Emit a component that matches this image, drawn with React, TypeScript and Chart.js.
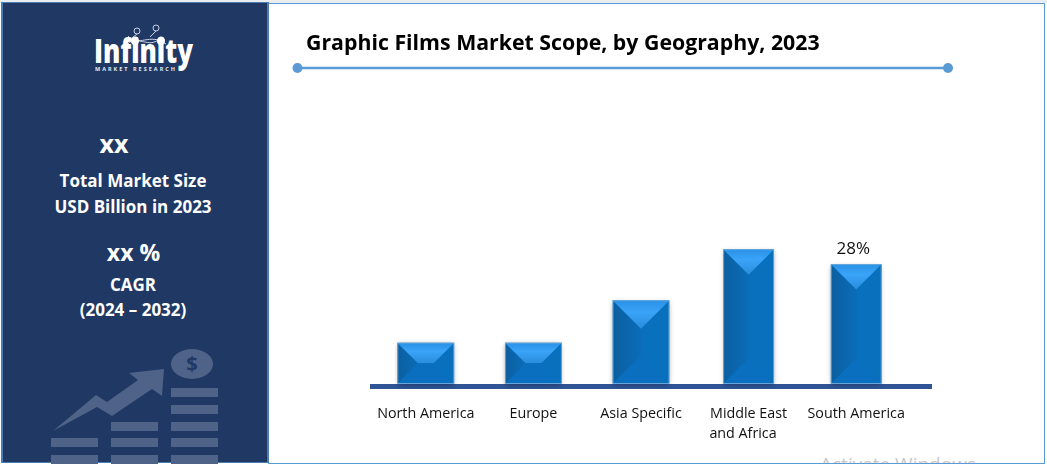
import React, { useEffect, useRef } from "react";
import { Chart, registerables } from "chart.js";

Chart.register(...registerables);

const categories = ["North America", "Europe", "Asia Specific", ["Middle East", "and Africa   "], "South America"];
const wideBars = [9.5, 9.5, 19.5, null, null];
const narrowBars = [null, null, null, 31.5, 28];
const barLabels = ["", "", "", "", "28%"];
const chartTitle = "Graphic Films Market Scope, by Geography, 2023";
const uiFont = "'Open Sans', 'Noto Sans', sans-serif";

const drawFacet = (ctx: CanvasRenderingContext2D, pts: number[][], fill: any) => {
    ctx.beginPath();
    pts.forEach((p, i) => (i ? ctx.lineTo(p[0], p[1]) : ctx.moveTo(p[0], p[1])));
    ctx.closePath();
    ctx.fillStyle = fill;
    ctx.fill();
};

const eachBar = (chart: any, fn: (bar: any, index: number) => void) => {
    chart.data.datasets.forEach((_: any, i: number) => {
        chart.getDatasetMeta(i).data.forEach((bar: any, index: number) => {
            if (Number.isFinite(bar.y) && Math.abs(bar.base - bar.y) > 0) fn(bar, index);
        });
    });
};

// bevelled look of the bars, the thick base line and the one value label
const bevelPlugin = {
    id: "bevel",
    beforeDatasetsDraw(chart: any) {
        const { ctx, scales } = chart;
        const zero = scales.y.getPixelForValue(0);
        ctx.save();
        ctx.fillStyle = "#2f5597";
        ctx.fillRect(370, zero + 0.5, 562, 5);
        ctx.shadowColor = "rgba(0,0,0,0.35)";
        ctx.shadowBlur = 5;
        ctx.shadowOffsetY = 1;
        ctx.fillStyle = "#0070c0";
        eachBar(chart, (bar) => {
            ctx.fillRect(bar.x - bar.width / 2, bar.y, bar.width, bar.base - bar.y);
        });
        ctx.restore();
    },
    afterDatasetsDraw(chart: any) {
        const { ctx } = chart;
        ctx.save();
        eachBar(chart, (bar, index) => {
            const l = bar.x - bar.width / 2;
            const r = bar.x + bar.width / 2;
            const t = bar.y;
            const b = bar.base;
            const d = Math.min(bar.width, b - t) / 2;

            const left = ctx.createLinearGradient(l, 0, l + d, 0);
            left.addColorStop(0, "#0b5fa0");
            left.addColorStop(1, "#0b6cb8");
            drawFacet(ctx, [[l, t], [l + d, t + d], [l + d, b - d], [l, b]], left);

            drawFacet(ctx, [[r, t], [r - d, t + d], [r - d, b - d], [r, b]], "#0870bd");

            const top = ctx.createLinearGradient(0, t, 0, t + d);
            top.addColorStop(0, "#2a92e6");
            top.addColorStop(0.4, "#3aa4f8");
            top.addColorStop(1, "#2a8cdc");
            drawFacet(ctx, [[l, t], [r, t], [r - d, t + d], [l + d, t + d]], top);

            drawFacet(ctx, [[l, b], [r, b], [r - d, b - d], [l + d, b - d]], "#0a6fbf");

            ctx.strokeStyle = "rgba(120,175,225,0.8)";
            ctx.lineWidth = 1;
            ctx.strokeRect(l, t, bar.width, b - t);

            if (barLabels[index]) {
                ctx.fillStyle = "#111111";
                ctx.font = `17px ${uiFont}`;
                ctx.textAlign = "center";
                ctx.textBaseline = "alphabetic";
                ctx.fillText(barLabels[index], bar.x - 3, t - 11);
            }
        });
        ctx.restore();
    },
};

const panelText = (text: string, cx: number, cy: number, size: number): React.CSSProperties & { key: string; text: string } => ({
    key: text,
    text,
    position: "absolute",
    left: cx,
    top: cy,
    transform: "translate(-50%, -50%)",
    whiteSpace: "nowrap",
    color: "#ffffff",
    fontFamily: uiFont,
    fontWeight: 700,
    fontSize: size,
});

const sidebarLines = [
    panelText("xx", 114, 143, 25),
    panelText("Total Market Size", 133, 180, 17),
    panelText("USD Billion in 2023", 133, 206, 17),
    panelText("xx %", 133.5, 252, 23),
    panelText("CAGR", 133, 284, 17),
    panelText("(2024 – 2032)", 133, 309, 17),
];

const coinRows = [
    [51, 438], [51, 455],
    [111, 422], [111, 438], [111, 455],
    [171, 388], [171, 405], [171, 422], [171, 438], [171, 455],
];

const App = () => {
    const canvasRef = useRef<HTMLCanvasElement | null>(null);

    useEffect(() => {
        const ctx = canvasRef.current?.getContext("2d");
        if (!ctx) return;

        const chart = new Chart(ctx, {
            type: "bar",
            data: {
                labels: categories as any,
                datasets: [
                    { data: wideBars, barThickness: 56, backgroundColor: "#0070c0" },
                    { data: narrowBars, barThickness: 50, backgroundColor: "#0070c0" },
                ],
            },
            options: {
                animation: false,
                responsive: false,
                layout: { padding: { left: 306, right: 137, top: 0, bottom: 0 } },
                plugins: {
                    legend: { display: false },
                    tooltip: { enabled: false },
                    title: {
                        display: true,
                        text: chartTitle,
                        align: "start",
                        color: "#000000",
                        font: { family: uiFont, size: 21.3, weight: "bold", lineHeight: 1.2 },
                        padding: { top: 31, bottom: 157 },
                    },
                },
                scales: {
                    x: {
                        stacked: true,
                        grid: { display: false },
                        border: { display: false },
                        ticks: {
                            color: "#111111",
                            font: { family: uiFont, size: 14.3, lineHeight: 1.4 },
                            maxRotation: 0,
                            autoSkip: false,
                            padding: 12,
                        },
                        afterFit: (scale: any) => {
                            scale.height = 81.5;
                        },
                    },
                    y: {
                        stacked: true,
                        min: 0,
                        max: 40,
                        grid: { display: false },
                        border: { display: false },
                        ticks: { display: false },
                        afterFit: (scale: any) => {
                            scale.width = 66;
                        },
                    },
                },
            },
            plugins: [bevelPlugin],
        });

        return () => {
            chart.destroy();
        };
    }, []);

    return (
        <div style={{ position: "fixed", left: 0, top: 0, width: 1047, height: 465, background: "#ffffff", overflow: "hidden" }}>
            <div style={{ position: "absolute", left: 0, top: 0, width: 1047, height: 3, background: "#e9edf0" }} />
            <div style={{ position: "absolute", left: 268, top: 3, width: 775, height: 459, border: "1px solid #5b9bd5" }} />
            <div style={{ position: "absolute", left: 820, top: 450, height: 13, width: 170, overflow: "hidden", color: "#c9c9c9", fontFamily: uiFont, fontSize: 19, lineHeight: "28px", whiteSpace: "nowrap" }}>
                Activate Windows
            </div>
            <div style={{ position: "absolute", left: 1, top: 2, width: 268, height: 461, boxSizing: "border-box", background: "#1f3864", border: "2px solid #4a7eb3", borderTopWidth: 1, borderBottomWidth: 1 }} />

            <svg width={270} height={465} style={{ position: "absolute", left: 0, top: 0 }}>
                <g fill="none" stroke="#c9d3e3" strokeWidth={1}>
                    <circle cx={137} cy={31} r={3} />
                    <circle cx={156} cy={28} r={3} />
                    <path d="M128 44 C 136 34, 150 50, 160 38 M128 36 C 138 48, 150 32, 166 44 M137 34 L132 38 M156 31 L150 37" />
                </g>
                <circle cx={135} cy={41} r={4} fill="#ffffff" />
                <circle cx={161} cy={41} r={4} fill="#ffffff" />
                <text x={94} y={63} fill="#ffffff" fontFamily={uiFont} fontWeight={800} fontSize={34} textLength={99} lengthAdjust="spacingAndGlyphs">Infinity</text>
                <text x={95} y={71} fill="#e6ebf3" fontFamily={uiFont} fontWeight={700} fontSize={5.5} textLength={80}>MARKET RESEARCH</text>
                <g fill="#4f6388">
                    {coinRows.map((row) => (
                        <rect key={row.join("-")} x={row[0]} y={row[1]} width={47} height={9} />
                    ))}
                    <polygon points="53,431 96,395 107,402 138,380 129,373 164,369 162,396 152,389 112,416 97,407" />
                    <ellipse cx={192} cy={364} rx={21} ry={15} />
                </g>
                <text x={192} y={371} textAnchor="middle" fill="#1f3864" fontFamily={uiFont} fontWeight={700} fontSize={20}>$</text>
            </svg>

            {sidebarLines.map(({ key, text, ...style }) => (
                <div key={key} style={style}>{text}</div>
            ))}

            <svg width={1047} height={90} style={{ position: "absolute", left: 0, top: 0 }}>
                <line x1={297} y1={68} x2={948} y2={68} stroke="#5b9bd5" strokeWidth={2.5} />
                <circle cx={297.5} cy={68} r={5} fill="#5b9bd5" />
                <circle cx={948} cy={68} r={5} fill="#5b9bd5" />
            </svg>

            <canvas ref={canvasRef} width={1047} height={465} style={{ position: "absolute", left: 0, top: 0 }} />
        </div>
    );
};

export default App;
